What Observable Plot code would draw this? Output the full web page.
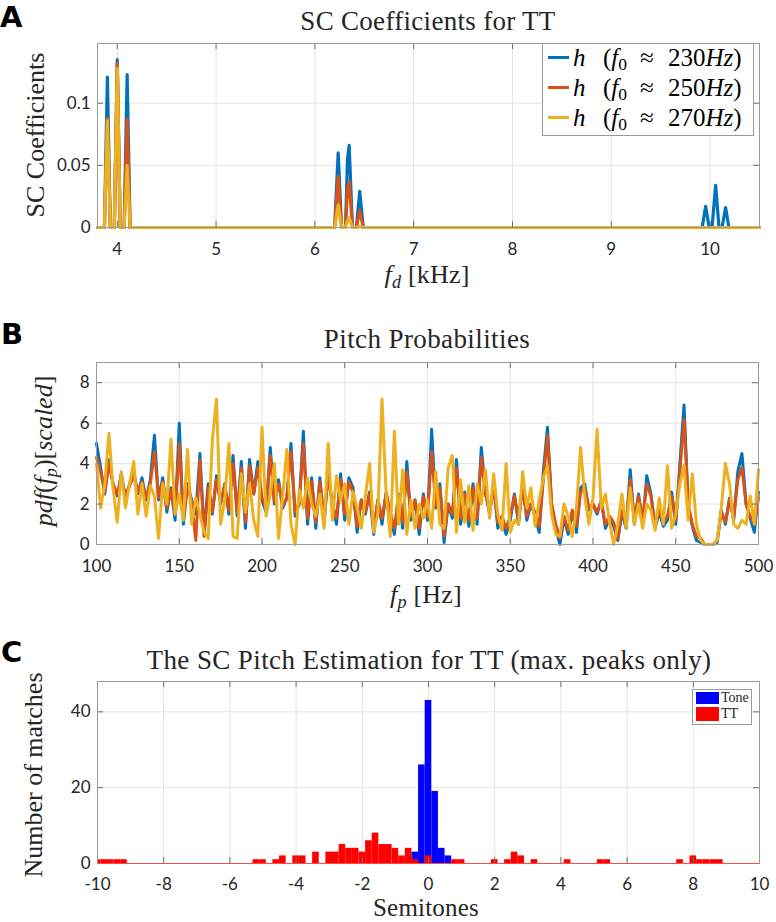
<!DOCTYPE html>
<html><head><meta charset="utf-8">
<script src="https://cdn.jsdelivr.net/npm/d3@7"></script>
<script src="https://cdn.jsdelivr.net/npm/@observablehq/plot@0.6"></script>
<style>
body{margin:0;background:#fff;}
#wrap{position:relative;width:776px;height:922px;overflow:hidden;font-family:"Liberation Serif",serif;color:#262626}
.panel{position:absolute;left:0}
.lab{position:absolute;font-family:"DejaVu Sans",sans-serif;font-weight:bold;font-size:29px;line-height:29px;color:#000}
.title,.xl{position:absolute;font-size:27px;line-height:27px;white-space:nowrap;transform:translateX(-50%);letter-spacing:0.4px}
.xl{font-size:26px;line-height:26px;letter-spacing:0.2px}
.yl{position:absolute;font-size:26px;line-height:26px;white-space:nowrap;transform:translate(-50%,-50%) rotate(-90deg)}
sub{font-size:0.7em;vertical-align:-0.25em;line-height:0}
.legA{position:absolute;left:542px;top:43px;width:210px;height:91px;border:1px solid #9a9a9a;background:#fff}
.legA .row{position:absolute;left:0;height:30px;width:210px}
.legA .sw{position:absolute;left:5px;top:12px;width:21px;height:3px}
.legA .tx{position:absolute;top:1px;font-size:25px;line-height:26px;white-space:nowrap;color:#000}
.legC{position:absolute;left:692px;top:689px;width:58px;height:34px;border:1px solid #9a9a9a;background:#fff}
.legC .pt{position:absolute;left:3px;width:23px}
.legC .tx{position:absolute;left:28px;font-size:14px;line-height:14px;color:#262626}
</style></head>
<body><div id="wrap"></div>
<script>
// ---------- Panel A data ----------
const fdKHz   = [3.8,3.87,3.9,3.93,3.97,4.0,4.03,4.07,4.1,4.13, 6.2,6.236,6.27,6.31,6.33,6.347,6.38,6.42,6.454,6.49, 9.92,9.955,9.99,10.02,10.056,10.09,10.12,10.157,10.19, 10.5];
const scBlue  = [0,0,0.121,0,0,0.135,0,0,0.123,0, 0,0.060,0,0,0.055,0.066,0,0,0.029,0, 0,0.017,0,0,0.034,0,0,0.016,0, 0];
const scRed   = [0,0,0.088,0,0,0.132,0,0,0.087,0, 0,0.041,0,0,0.030,0.037,0,0,0.0135,0, 0,0,0,0,0,0,0,0,0, 0];
const scYellow= [0,0,0.086,0,0,0.128,0,0,0.050,0, 0,0.018,0,0,0.005,0.008,0,0,0.001,0, 0,0,0,0,0,0,0,0,0, 0];
const aXTicks = [4,5,6,7,8,9,10];
const aYTicks = [0,0.05,0.1];
const seriesLabels = ["230","250","270"];
const seriesColors = ["#0072BD","#D95319","#EDB120"];

// ---------- Panel B data (fp sampled every 2.5 Hz from 100 to 500) ----------
const fpHz = d3.range(100, 500.001, 2.5);
const pdfBlue = [
 5.0,3.8,2.5,4.2,3.0,2.4,3.5,2.3,3.0,3.6,
 2.5,3.3,2.2,3.2,5.4,2.2,3.3,1.6,2.8,1.2,
 6.0,1.0,3.0,2.2,1.5,4.5,0.6,3.0,1.5,3.4,
 2.0,3.0,1.5,4.4,1.4,4.1,0.8,4.2,2.5,4.1,
 2.2,1.6,4.8,2.0,3.2,1.8,2.3,5.0,1.4,2.0,
 5.6,1.0,3.3,0.8,3.3,1.0,3.6,2.0,1.0,3.5,
 1.2,3.3,2.8,0.6,2.2,1.5,2.6,0.5,2.2,1.0,
 2.6,1.4,0.5,2.5,0.8,4.1,1.2,2.2,0.5,2.5,
 1.2,5.7,1.8,3.0,0.1,2.0,1.3,4.2,1.0,2.6,
 0.9,3.0,1.0,4.8,2.6,1.5,3.0,0.8,1.2,0.5,
 1.2,2.5,1.0,3.0,1.2,2.0,1.4,0.6,3.6,5.8,
 2.0,0.8,0.0,1.3,0.5,1.6,0.6,2.8,3.0,1.7,
 2.0,1.5,2.2,0.8,1.3,0.9,0.2,1.6,0.8,3.7,
 1.0,2.5,1.0,3.4,2.5,0.8,1.6,0.9,1.2,2.6,
 1.0,4.0,6.9,2.0,0.9,0.2,0.1,0.0,0.0,0.0,
 0.1,1.7,1.0,2.3,1.2,3.6,4.5,2.0,1.3,0.6,
 2.6];
const pdfRed = [
 4.3,3.6,2.6,4.0,3.0,2.5,3.3,2.4,2.9,3.4,
 2.6,3.1,2.3,3.0,4.6,2.3,3.1,1.8,2.7,1.5,
 5.0,1.3,2.9,2.1,0.2,4.2,0.4,2.8,1.6,3.2,
 2.1,2.9,1.7,4.0,1.6,3.8,1.1,3.9,2.5,3.8,
 2.3,1.8,4.4,2.1,3.0,1.9,2.3,4.6,1.6,2.1,
 5.0,1.3,3.1,1.1,3.1,1.3,3.4,2.0,1.3,3.2,
 1.5,3.1,2.6,0.9,2.2,1.6,2.5,0.8,2.2,1.3,
 2.5,1.6,0.8,2.4,1.1,3.6,1.4,2.2,0.8,2.4,
 1.4,4.6,1.9,2.8,0.4,2.0,1.5,3.8,1.3,2.5,
 1.2,2.8,1.3,4.3,2.5,1.7,2.8,1.1,1.4,0.8,
 1.4,2.4,1.3,2.8,1.4,2.0,1.6,0.9,3.2,5.4,
 2.0,1.0,0.3,1.4,0.7,1.7,0.9,2.6,2.8,1.8,
 2.0,1.6,2.1,1.0,1.4,1.1,0.3,1.7,1.0,3.2,
 1.2,2.4,1.2,3.0,2.4,1.0,1.7,1.1,1.4,2.4,
 1.2,3.6,6.2,2.0,1.0,0.4,0.3,0.0,0.0,0.0,
 0.2,1.6,1.1,2.2,1.3,3.2,3.8,2.0,1.4,1.0,
 2.3];
const pdfYellow = [
 4.0,1.8,3.0,5.5,2.8,1.1,3.6,1.8,3.0,4.1,
 1.5,3.0,1.4,2.9,2.4,0.3,3.0,2.0,5.2,1.5,
 2.5,1.2,4.7,1.0,2.3,1.5,0.6,0.3,5.2,7.2,
 1.0,2.2,5.0,0.4,0.3,3.5,1.6,3.0,1.2,0.4,
 5.8,1.4,2.5,4.0,0.3,2.4,4.7,1.0,0.0,2.7,
 1.8,3.3,2.0,1.4,2.5,0.8,5.0,1.2,3.4,2.2,
 3.0,1.0,2.6,1.8,0.8,2.4,4.0,0.6,1.5,7.2,
 2.5,0.4,5.6,1.0,3.7,0.5,2.2,0.8,2.0,1.3,
 2.2,0.8,3.6,1.0,0.8,3.8,4.4,0.6,3.2,1.1,
 2.9,0.7,3.0,2.0,3.7,1.3,3.5,1.5,0.7,4.0,
 0.6,1.2,1.0,3.6,1.8,2.8,0.9,2.2,3.3,3.9,
 1.5,0.5,0.4,2.0,1.4,0.4,1.8,4.8,2.4,1.0,
 2.3,5.7,1.8,2.5,1.1,0.0,1.0,2.5,0.8,2.8,
 1.0,2.0,0.8,2.0,1.7,0.7,2.3,1.0,3.9,0.8,
 1.5,3.0,3.9,1.2,3.5,1.0,0.2,0.0,0.0,0.0,
 0.2,1.8,4.0,3.0,1.0,0.8,1.2,1.0,2.4,1.0,
 3.7];
const bXTicks = [100,150,200,250,300,350,400,450,500];
const bYTicks = [0,2,4,6,8];

// ---------- Panel C data (histogram bins, width 0.2 semitone) ----------
const binWidth = 0.2;
const toneCenters = [-0.6,-0.4,-0.2,0,0.2,0.4,0.6];
const toneCounts  = [1,3,26,43,19,4,2];
const ttCenters = [-10.0,-9.8,-9.6,-9.4,-9.2,-5.2,-5.0,-4.6,-4.4,-4.0,-3.8,-3.4,-3.0,-2.8,-2.6,-2.4,-2.2,-2.0,-1.8,-1.6,-1.4,-1.2,-1.0,-0.8,-0.6,-0.4,0,0.8,1.0,2.0,2.4,2.6,2.8,3.2,4.2,5.2,5.4,7.6,8.0,8.2,8.4,8.6,8.8];
const ttCounts  = [1,1,1,1,1,1,1,1,2,2,2,3,3,3,5,4,4,3,6,8,5,5,4,2,4,1,2,1,1,1,1,3,2,1,1,1,1,1,2,1,1,1,1];
const cXTicks = [-10,-8,-6,-4,-2,0,2,4,6,8,10];
const cYTicks = [0,20,40];

// ---------- helpers ----------
const GRID = "#e4e4e4", FRAME = "#9a9a9a", TICK = "#6e6e6e";
const pairs = (xs, ys) => xs.map((x, i) => ({x, y: ys[i]}));
function gridMarks(xt, yt) {
  return [
    Plot.ruleX(xt, {x: d => d, stroke: GRID}),
    Plot.ruleY(yt, {y: d => d, stroke: GRID}),
  ];
}
function tickMarks(xt, yt, xd, yd) {
  const tx = (xd[1]-xd[0])*0.009, ty = (yd[1]-yd[0])*0.033;
  return [
    Plot.ruleX(xt, {x: d => d, y1: () => yd[0], y2: () => yd[0]+ty, stroke: TICK}),
    Plot.ruleX(xt, {x: d => d, y1: () => yd[1], y2: () => yd[1]-ty, stroke: TICK}),
    Plot.ruleY(yt, {y: d => d, x1: () => xd[0], x2: () => xd[0]+tx, stroke: TICK}),
    Plot.ruleY(yt, {y: d => d, x1: () => xd[1], x2: () => xd[1]-tx, stroke: TICK}),
    Plot.frame({stroke: FRAME})
  ];
}
const baseStyle = {fontFamily: "Lato, 'Open Sans', sans-serif", fontSize: "17px", color: "#262626", background: "transparent", overflow: "visible"};
const axisX = (domain, ticks, pad = 15) => ({domain, ticks, tickSize: 0, tickPadding: pad, label: null, tickFormat: d => String(d)});
const axisY = (domain, ticks) => ({domain, ticks, tickSize: 0, tickPadding: 7, label: null, tickFormat: d => String(d)});

const wrap = document.getElementById("wrap");
function place(node, top) { node.classList.add("panel"); node.style.top = top + "px"; wrap.appendChild(node); }

// ---------- Panel A ----------
const aXD = [3.8, 10.5], aYD = [0, 0.148];
const plotA = Plot.plot({
  width: 776, height: 290, marginLeft: 97, marginRight: 17, marginTop: 43, marginBottom: 63,
  style: baseStyle,
  x: axisX(aXD, aXTicks), y: axisY(aYD, aYTicks),
  marks: [
    ...gridMarks(aXTicks, aYTicks),
    Plot.line(pairs(fdKHz, scBlue),   {x: "x", y: "y", stroke: seriesColors[0], strokeWidth: 3.2}),
    Plot.line(pairs(fdKHz, scRed),    {x: "x", y: "y", stroke: seriesColors[1], strokeWidth: 3.2}),
    Plot.line(pairs(fdKHz, scYellow), {x: "x", y: "y", stroke: seriesColors[2], strokeWidth: 3.2}),
    ...tickMarks(aXTicks, aYTicks, aXD, aYD)
  ]
});
place(plotA, 0);

// ---------- Panel B ----------
const bXD = [100, 500], bYD = [0, 9];
const plotB = Plot.plot({
  width: 776, height: 320, marginLeft: 96, marginRight: 18, marginTop: 72, marginBottom: 66,
  style: baseStyle,
  x: axisX(bXD, bXTicks), y: axisY(bYD, bYTicks),
  marks: [
    ...gridMarks(bXTicks, bYTicks),
    Plot.line(pairs(fpHz, pdfBlue),   {x: "x", y: "y", stroke: seriesColors[0], strokeWidth: 3}),
    Plot.line(pairs(fpHz, pdfRed),    {x: "x", y: "y", stroke: seriesColors[1], strokeWidth: 3}),
    Plot.line(pairs(fpHz, pdfYellow), {x: "x", y: "y", stroke: seriesColors[2], strokeWidth: 3}),
    ...tickMarks(bXTicks, bYTicks, bXD, bYD)
  ]
});
place(plotB, 290);

// ---------- Panel C ----------
const cXD = [-10, 10], cYD = [0, 48];
const toneBins = pairs(toneCenters, toneCounts);
const ttBins = pairs(ttCenters, ttCounts);
const plotC = Plot.plot({
  width: 776, height: 312, marginLeft: 97, marginRight: 17, marginTop: 71, marginBottom: 59,
  style: baseStyle,
  x: axisX(cXD, cXTicks, 14), y: axisY(cYD, cYTicks),
  marks: [
    ...gridMarks(cXTicks, cYTicks),
    Plot.rectY(toneBins, {x1: d => d.x - binWidth/2, x2: d => d.x + binWidth/2, y: "y", fill: "#0000ff", clip: true}),
    Plot.rectY(ttBins,   {x1: d => d.x - binWidth/2, x2: d => d.x + binWidth/2, y: "y", fill: "#ff0000", clip: true}),
    ...tickMarks(cXTicks, cYTicks, cXD, cYD),
    Plot.ruleY([0], {y: d => d, stroke: "#ff4a4a", strokeWidth: 1.2})
  ]
});
place(plotC, 610);

// ---------- Text overlays ----------
function addDiv(cls, html, css) {
  const d = document.createElement("div");
  d.className = cls; d.innerHTML = html; Object.assign(d.style, css); wrap.appendChild(d); return d;
}
addDiv("lab", "A", {left: "0px", top: "3px"});
addDiv("lab", "B", {left: "1px", top: "320px"});
addDiv("lab", "C", {left: "1px", top: "638px"});

addDiv("title", "SC Coefficients for TT", {left: "428px", top: "8px", letterSpacing: "0.3px"});
addDiv("title", "Pitch Probabilities", {left: "427px", top: "326px"});
addDiv("title", "The SC Pitch Estimation for TT (max. peaks only)", {left: "429px", top: "647px"});

addDiv("xl", "<i>f</i><sub><i>d</i></sub>&nbsp;[kHz]", {left: "427px", top: "262px"});
addDiv("xl", "<i>f</i><sub><i>p</i></sub>&nbsp;[Hz]", {left: "426px", top: "582px"});
addDiv("xl", "Semitones", {left: "426px", top: "894px", fontSize: "25px", lineHeight: "28px"});

addDiv("yl", "SC Coefficients", {left: "36px", top: "135px"});
addDiv("yl", "<i>pdf</i>(<i>f</i><sub><i>p</i></sub>)[<i>scaled</i>]", {left: "44px", top: "451px"});
addDiv("yl", "Number of matches", {left: "34px", top: "775px"});

// Legend A
const legA = addDiv("legA", "", {});
seriesLabels.forEach((lab, i) => {
  const r = document.createElement("div");
  r.className = "row"; r.style.top = (i * 30) + "px";
  r.innerHTML = `<div class="sw" style="background:${seriesColors[i]}"></div>` +
    `<div class="tx" style="left:30px"><i>h</i></div>` +
    `<div class="tx" style="left:60px">(<i>f</i><sub>0</sub></div>` +
    `<div class="tx" style="left:97px">&#8776;</div>` +
    `<div class="tx" style="left:125px">${lab}<i>Hz</i>)</div>`;
  legA.appendChild(r);
});
// Legend C
const legC = addDiv("legC", "", {});
[["Tone", "#0000ff"], ["TT", "#ff0000"]].forEach(([lab, col], i) => {
  const p = document.createElement("div");
  p.className = "pt"; p.style.background = col; p.style.top = (i === 0 ? 2 : 17) + "px"; p.style.height = (i === 0 ? 12 : 14) + "px";
  legC.appendChild(p);
  const t = document.createElement("div");
  t.className = "tx"; t.style.top = (i === 0 ? 1 : 17) + "px"; t.textContent = lab;
  legC.appendChild(t);
});
</script>
</body></html>
